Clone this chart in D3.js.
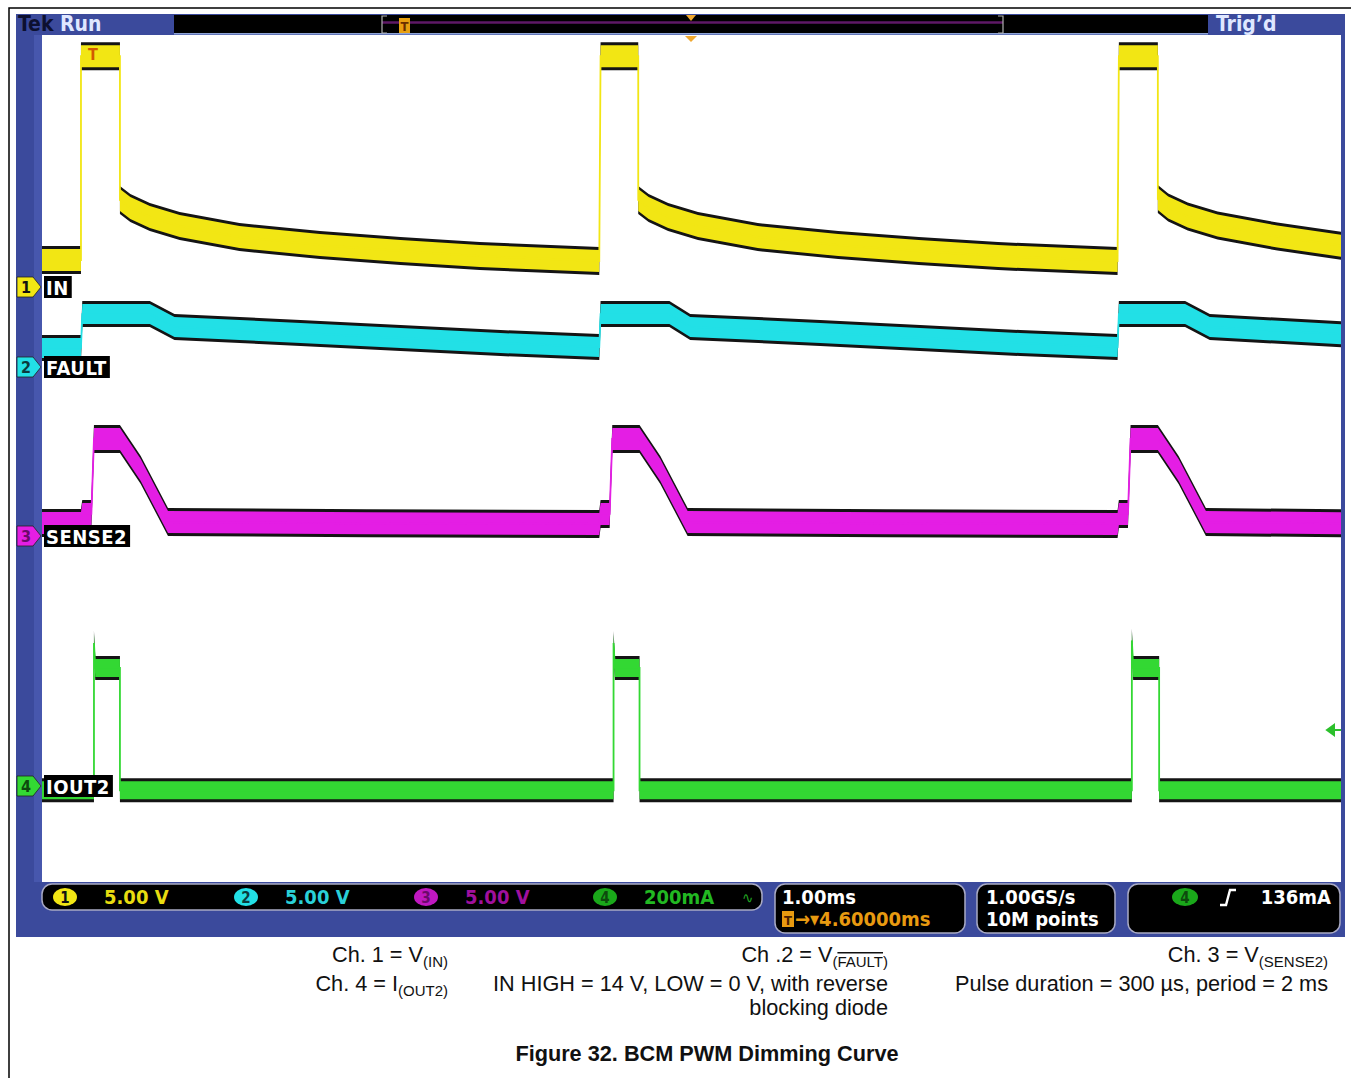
<!DOCTYPE html>
<meta charset="utf-8">
<div id="chart"></div>
<style>
body { margin: 0; background: #fff; }
svg text { font-family: 'DejaVu Sans Condensed', 'DejaVu Sans', sans-serif; }
.cap { font-family: 'Liberation Sans', Arial, sans-serif; font-size: 21.7px; fill: #111; }
.ro { font-size: 20px; font-weight: bold; }
</style>
<script src="https://d3js.org/d3.v7.min.js"></script>
<script>
// traces: [time ms, value in channel units]
var inTrace = [
  [0, 1.27], [0.30, 1.27], [0.30, 10.9], [0.60, 10.9], [0.60, 4.11], [0.68, 3.73], [0.83, 3.31],
  [1.06, 2.88], [1.52, 2.36], [2.14, 1.98], [2.76, 1.70], [3.37, 1.46], [4.29, 1.23],
  [4.30, 10.9], [4.59, 10.9], [4.59, 4.11], [4.67, 3.73], [4.82, 3.31], [5.05, 2.88],
  [5.51, 2.36], [6.13, 1.98], [6.75, 1.70], [7.36, 1.46], [8.28, 1.23],
  [8.29, 10.9], [8.59, 10.9], [8.59, 4.15], [8.67, 3.75], [8.82, 3.33], [9.05, 2.9],
  [9.51, 2.38], [10, 1.95]
];
var faultTrace = [
  [0, 0.90], [0.30, 0.90], [0.31, 2.50], [0.83, 2.50], [1.02, 1.89], [1.99, 1.61],
  [2.76, 1.37], [3.53, 1.13], [4.29, 0.94],
  [4.30, 2.50], [4.83, 2.50], [4.99, 1.89], [5.99, 1.61], [6.76, 1.37], [7.53, 1.13], [8.28, 0.94],
  [8.29, 2.50], [8.80, 2.50], [8.99, 1.89], [10, 1.55]
];
var senseTrace = [
  [0, 0.61], [0.30, 0.61], [0.31, 1.04], [0.38, 1.04], [0.40, 4.58], [0.60, 4.58],
  [0.76, 3.12], [0.97, 0.66], [2.5, 0.60], [4.29, 0.57],
  [4.30, 1.04], [4.37, 1.04], [4.39, 4.58], [4.60, 4.58], [4.76, 3.12], [4.97, 0.66],
  [6.5, 0.60], [8.28, 0.57],
  [8.29, 1.04], [8.36, 1.04], [8.38, 4.58], [8.59, 4.58], [8.75, 3.12], [8.96, 0.66], [10, 0.60]
];
var ioutTrace = [
  [0, -8], [0.40, -8], [0.40, 270], [0.41, 223], [0.60, 223], [0.60, -8],
  [4.40, -8], [4.40, 270], [4.41, 223], [4.60, 223], [4.60, -8],
  [8.39, -8], [8.39, 275], [8.40, 223], [8.60, 223], [8.60, -8], [10, -8]
];

var channelLabels = ["IN", "FAULT", "SENSE2", "IOUT2"];
var scaleLabels = ["5.00 V", "5.00 V", "5.00 V", "200mA"];
var perDiv = [5, 5, 5, 200];
var timebase = ["1.00ms", "4.60000ms"];
var acquisition = ["1.00GS/s", "10M points"];
var triggerLevel = "136mA";

// layout
var colors = ["#f2e614", "#22e0e6", "#e41ee4", "#33d833"];
var numColors = ["#111", "#0b3b3d", "#6a0a6a", "#0d4a0d"];
var scaleTextColors = ["#e8dc10", "#2ad0d8", "#a0109e", "#22b822"];
var groundY = [287, 367, 536, 786];
var halfBand = [11, 10, 11, 9];
var DIV = 105.9;
var blue = "#3b4a9c";

var svg = d3.select("#chart").append("svg")
  .attr("width", 1351).attr("height", 1078);

// outer page border
svg.append("path").attr("d", "M9,1078 L9,8 L1351,8")
  .attr("fill", "none").attr("stroke", "#000").attr("stroke-width", 1.5);

// scope frame
svg.append("rect").attr("x", 16).attr("y", 14).attr("width", 1329).attr("height", 923).attr("fill", blue);
svg.append("rect").attr("x", 34).attr("y", 35).attr("width", 8).attr("height", 847).attr("fill", "#4757ad");
svg.append("rect").attr("x", 42).attr("y", 35).attr("width", 1299).attr("height", 847).attr("fill", "#fff");

var x = d3.scaleLinear().domain([0, 10]).range([42, 1341]);

svg.append("clipPath").attr("id", "plotclip")
  .append("rect").attr("x", 42).attr("y", 35).attr("width", 1299).attr("height", 847);

var plot = svg.append("g").attr("clip-path", "url(#plotclip)");

[inTrace, faultTrace, senseTrace, ioutTrace].forEach(function(tr, i) {
  var y = d3.scaleLinear().domain([0, perDiv[i]]).range([groundY[i], groundY[i] - DIV]);
  var band = function(h) {
    return d3.area()
      .x(function(d) { return x(d[0]); })
      .y0(function(d) { return y(d[1]) + h; })
      .y1(function(d) { return y(d[1]) - h; });
  };
  plot.append("path").attr("d", band(halfBand[i] + 3)(tr)).attr("fill", "#141414");
  plot.append("path").attr("d", band(halfBand[i])(tr)).attr("fill", colors[i]);
  plot.append("path")
    .attr("d", d3.line().x(function(d) { return x(d[0]); }).y(function(d) { return y(d[1]); })(tr))
    .attr("fill", "none").attr("stroke", colors[i]).attr("stroke-width", 1.8);
});

// trigger marker on ch1 and trigger level arrow on ch4
svg.append("text").attr("x", 88).attr("y", 60).text("T")
  .style("font-size", "16px").style("font-weight", "bold").style("fill", "#d25a00");
svg.append("path").attr("d", "M1327,730 L1334,725 L1334,735 Z M1333,730 L1341,730")
  .attr("fill", "#2cc02c").attr("stroke", "#2cc02c").attr("stroke-width", 2);

// channel markers and labels
channelLabels.forEach(function(name, i) {
  var yc = groundY[i];
  svg.append("path")
    .attr("d", "M17," + (yc - 10) + " L33," + (yc - 10) + " L41," + yc + " L33," + (yc + 10) + " L17," + (yc + 10) + " Z")
    .attr("fill", colors[i]).attr("stroke", "#222").attr("stroke-width", 0.8);
  svg.append("text").attr("x", 26).attr("y", yc + 6).attr("text-anchor", "middle")
    .text(i + 1).style("font-size", "16px").style("font-weight", "bold").style("fill", numColors[i]);
  var box = svg.append("rect").attr("x", 44).attr("y", yc - 11).attr("height", 22).attr("fill", "#000");
  var t = svg.append("text").attr("x", 46).attr("y", yc + 8).text(name)
    .style("font-size", "20px").style("font-weight", "bold").style("fill", "#fff")
    .style("letter-spacing", "0.5px");
  box.attr("width", t.node().getComputedTextLength() + 5);
});

// top status bar
svg.append("rect").attr("x", 174).attr("y", 15).attr("width", 1034).attr("height", 19).attr("fill", "#000");
svg.append("rect").attr("x", 174).attr("y", 33).attr("width", 1034).attr("height", 1.5).attr("fill", "#8ea4d6");
svg.append("line").attr("x1", 382).attr("x2", 1003).attr("y1", 22.5).attr("y2", 22.5)
  .attr("stroke", "#5e1866").attr("stroke-width", 2.5);
svg.append("path").attr("d", "M387,16 L382,16 L382,33 L387,33 M998,16 L1003,16 L1003,33 L998,33")
  .attr("fill", "none").attr("stroke", "#b0b0b0").attr("stroke-width", 1.2);
svg.append("rect").attr("x", 399).attr("y", 18).attr("width", 11).attr("height", 15).attr("fill", "#e8a010");
svg.append("text").attr("x", 404.5).attr("y", 31).attr("text-anchor", "middle").text("T")
  .style("font-size", "13px").style("font-weight", "bold").style("fill", "#6a3000");
svg.append("path").attr("d", "M686,15 L696,15 L691,21 Z").attr("fill", "#f0a830");
svg.append("path").attr("d", "M685,36 L697,36 L691,42 Z").attr("fill", "#f0a830");
svg.append("text").attr("x", 18).attr("y", 31).text("Tek")
  .style("font-size", "21px").style("font-weight", "bold").style("fill", "#0d1030");
svg.append("text").attr("x", 60).attr("y", 31).text("Run")
  .style("font-size", "21px").style("font-weight", "bold").style("fill", "#dfe7ff");
svg.append("text").attr("x", 1216).attr("y", 31).text("Trig\u2019d")
  .style("font-size", "21px").style("font-weight", "bold").style("fill", "#dfe7ff");

// bottom readouts
function pill(x0, y0, w, h) {
  svg.append("rect").attr("x", x0).attr("y", y0).attr("width", w).attr("height", h)
    .attr("rx", 10).attr("fill", "#000").attr("stroke", "#a9aac4").attr("stroke-width", 1.5);
}
pill(42, 884, 720, 26);
pill(775, 884, 190, 49);
pill(977, 884, 138, 49);
pill(1128, 884, 212, 49);

var chanX = [65, 246, 426, 605];
scaleLabels.forEach(function(s, i) {
  svg.append("ellipse").attr("cx", chanX[i]).attr("cy", 897).attr("rx", 12).attr("ry", 9)
    .attr("fill", i == 2 ? "#c018c0" : (i == 3 ? "#1aa81a" : colors[i]));
  svg.append("text").attr("x", chanX[i]).attr("y", 903).attr("text-anchor", "middle").text(i + 1)
    .style("font-size", "15px").style("font-weight", "bold").style("fill", numColors[i]);
  svg.append("text").attr("class", "ro").attr("x", chanX[i] + 39).attr("y", 904).text(s)
    .style("fill", scaleTextColors[i]);
});
svg.append("text").attr("x", 742).attr("y", 903).text("\u223F")
  .style("font-size", "15px").style("fill", "#22a822");

svg.append("text").attr("class", "ro").attr("x", 782).attr("y", 904).text(timebase[0])
  .style("fill", "#fff");
svg.append("rect").attr("x", 782).attr("y", 911).attr("width", 12).attr("height", 16).attr("fill", "#e89a10");
svg.append("text").attr("x", 788).attr("y", 925).attr("text-anchor", "middle").text("T")
  .style("font-size", "13px").style("font-weight", "bold").style("fill", "#4a2000");
svg.append("text").attr("class", "ro").attr("x", 795).attr("y", 926).text("\u2192\u25BE" + timebase[1])
  .style("fill", "#e89a10");

svg.append("text").attr("class", "ro").attr("x", 986).attr("y", 904).text(acquisition[0])
  .style("fill", "#fff");
svg.append("text").attr("class", "ro").attr("x", 986).attr("y", 926).text(acquisition[1])
  .style("fill", "#fff");

svg.append("ellipse").attr("cx", 1185).attr("cy", 897).attr("rx", 13).attr("ry", 9).attr("fill", "#1aa81a");
svg.append("text").attr("x", 1185).attr("y", 903).attr("text-anchor", "middle").text("4")
  .style("font-size", "15px").style("font-weight", "bold").style("fill", numColors[3]);
svg.append("path").attr("d", "M1220,905 L1226,905 L1230,890 L1236,890")
  .attr("fill", "none").attr("stroke", "#fff").attr("stroke-width", 2.4);
svg.append("text").attr("class", "ro").attr("x", 1331).attr("y", 904).attr("text-anchor", "end").text(triggerLevel)
  .style("fill", "#fff");

// captions
function caption(xe, yb, main, sub, over) {
  var t = svg.append("text").attr("class", "cap").attr("x", xe).attr("y", yb).attr("text-anchor", "end");
  t.append("tspan").text(main);
  if (sub) {
    if (over) {
      t.append("tspan").attr("dy", 5).style("font-size", "15px").text("(");
      t.append("tspan").style("font-size", "15px").style("text-decoration", "overline").text(sub);
      t.append("tspan").style("font-size", "15px").text(")");
    } else {
      t.append("tspan").attr("dy", 5).style("font-size", "15px").text(sub);
    }
  }
}
caption(448, 962, "Ch. 1 = V", "(IN)");
caption(448, 991, "Ch. 4 = I", "(OUT2)");
caption(888, 962, "Ch .2 = V", "FAULT", true);
caption(888, 991, "IN HIGH = 14 V, LOW = 0 V, with reverse");
caption(888, 1015, "blocking diode");
caption(1328, 962, "Ch. 3 = V", "(SENSE2)");
caption(1328, 991, "Pulse duration = 300 \u00B5s, period = 2 ms");

svg.append("text").attr("class", "cap").attr("x", 707).attr("y", 1061).attr("text-anchor", "middle")
  .style("font-weight", "bold").text("Figure 32. BCM PWM Dimming Curve");
</script>
